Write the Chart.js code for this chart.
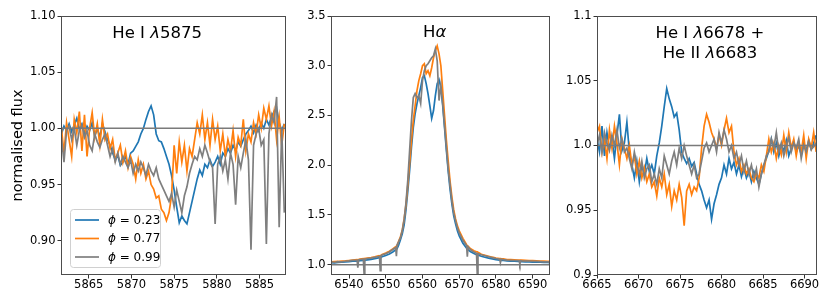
<!DOCTYPE html>
<html>
<head>
<meta charset="utf-8">
<script src="https://cdn.jsdelivr.net/npm/chart.js@4.4.0/dist/chart.umd.min.js"></script>
<style>
  html, body { margin: 0; padding: 0; background: #fff; }
  #fig { position: relative; width: 830px; height: 307px; }
  #fig canvas { position: absolute; left: 0; top: 0; }
</style>
</head>
<body>
<div id="fig">
  <canvas id="he5875" width="830" height="307"></canvas>
  <canvas id="halpha" width="830" height="307"></canvas>
  <canvas id="he6678" width="830" height="307"></canvas>
</div>
<script>
// Three line-profile panels (He I 5875, H-alpha, He I 6678 + He II 6683) at three orbital phases.

const phaseLabels = ["ϕ = 0.23", "ϕ = 0.77", "ϕ = 0.99"];
const phaseColors = ["#1f77b4", "#ff7f0e", "#7f7f7f"];

// --- He I 5875 ---
const he5875Waves = [
  5861.8, 5862.1, 5862.4, 5862.7, 5863.0, 5863.3, 5863.6, 5863.9, 5864.2, 5864.5,
  5864.8, 5865.1, 5865.4, 5865.7, 5866.0, 5866.3, 5866.6, 5866.9, 5867.2, 5867.5,
  5867.8, 5868.1, 5868.4, 5868.7, 5869.0, 5869.3, 5869.6, 5869.9, 5870.2, 5870.5,
  5870.8, 5871.1, 5871.4, 5871.7, 5872.0, 5872.3, 5872.6, 5872.9, 5873.2, 5873.5,
  5873.8, 5874.1, 5874.4, 5874.7, 5875.0, 5875.3, 5875.6, 5875.9, 5876.2, 5876.5,
  5876.8, 5877.1, 5877.4, 5877.7, 5878.0, 5878.3, 5878.6, 5878.9, 5879.2, 5879.5,
  5879.8, 5880.1, 5880.4, 5880.7, 5881.0, 5881.3, 5881.6, 5881.9, 5882.2, 5882.5,
  5882.8, 5883.1, 5883.4, 5883.7, 5884.0, 5884.3, 5884.6, 5884.9, 5885.2, 5885.5,
  5885.8, 5886.1, 5886.4, 5886.7, 5887.0, 5887.3, 5887.6, 5887.9
];
const he5875Phase023 = [
  0.995, 1.002, 0.998, 1.004, 0.997, 1.003, 1.009, 0.999, 1.004, 0.996,
  1.002, 0.998, 1.005, 0.993, 1.000, 0.992, 1.004, 0.997, 0.990, 0.985,
  0.978, 0.972, 0.976, 0.967, 0.970, 0.975, 0.968, 0.978, 0.980, 0.984,
  0.988, 0.995, 1.000, 1.008, 1.015, 1.020, 1.012, 0.995, 0.989, 0.988,
  0.982, 0.975, 0.968, 0.958, 0.945, 0.930, 0.916, 0.922, 0.918, 0.915,
  0.925, 0.935, 0.945, 0.955, 0.963, 0.958, 0.968, 0.965, 0.972, 0.966,
  0.970, 0.975, 0.968, 0.978, 0.975, 0.982, 0.978, 0.985, 0.980, 0.988,
  0.984, 0.990, 0.995, 0.998, 1.002, 0.996, 1.003, 0.998, 1.005, 1.000,
  1.008, 1.003, 1.010, 1.015, 1.018, 1.005, 0.998, 1.004
];
const he5875Phase077 = [
  1.000, 0.978, 1.005, 0.990, 0.975, 1.008, 0.996, 1.015, 0.980, 1.012,
  0.975, 1.000, 1.014, 0.992, 1.004, 0.985, 1.008, 0.990, 0.995, 0.982,
  0.990, 0.972, 0.978, 0.985, 0.970, 0.980, 0.965, 0.975, 0.968, 0.955,
  0.972, 0.960, 0.968, 0.955, 0.962, 0.950, 0.946, 0.938, 0.940, 0.928,
  0.925, 0.918, 0.925, 0.940, 0.985, 0.960, 0.988, 0.970, 0.985, 0.962,
  0.982, 0.975, 0.990, 1.005, 0.995, 1.012, 0.990, 1.005, 0.985, 1.008,
  0.990, 1.002, 0.980, 0.995, 0.975, 0.990, 0.980, 0.998, 0.975, 0.992,
  0.985, 1.008, 0.980, 0.995, 0.988, 1.005, 0.995, 1.012, 1.000, 1.018,
  1.008, 1.020, 1.002, 1.015, 0.990, 1.010, 0.985, 1.004
];
const he5875Phase099 = [
  0.992, 0.970, 0.998, 1.002, 0.990, 1.000, 0.985, 0.998, 1.003, 0.992,
  0.998, 0.985, 0.980, 0.995, 0.988, 0.983, 0.990, 0.995, 0.985, 0.975,
  0.982, 0.970, 0.978, 0.968, 0.975, 0.970, 0.965, 0.972, 0.960, 0.968,
  0.962, 0.970, 0.965, 0.958, 0.968, 0.962, 0.958, 0.965, 0.955, 0.950,
  0.945, 0.940, 0.935, 0.942, 0.930, 0.945, 0.935, 0.925, 0.940, 0.948,
  0.960, 0.968, 0.975, 0.972, 0.982, 0.975, 0.985, 0.978, 0.970, 0.965,
  0.915, 0.968, 0.975, 0.962, 0.972, 0.955, 0.978, 0.968, 0.932, 0.975,
  0.965, 0.978, 0.990, 0.972, 0.892, 0.985, 0.995, 1.000, 0.985, 0.990,
  0.897, 0.995, 1.012, 1.005, 1.028, 0.912, 1.000, 0.925
];
const he5875XTicks = [5865, 5870, 5875, 5880, 5885];
const he5875YTicks = [0.90, 0.95, 1.00, 1.05, 1.10];
const he5875YLabels = ["0.90", "0.95", "1.00", "1.05", "1.10"];

// --- H alpha ---
const halphaWaves = [
  6535, 6536, 6537, 6538, 6539, 6540, 6541, 6542.2, 6542.4, 6542.6,
  6543, 6543.9, 6544.1, 6544.3, 6545, 6546, 6547, 6548, 6548.3, 6548.5,
  6548.7, 6549, 6550, 6551, 6552, 6552.7, 6552.9, 6553.1, 6553.5, 6554,
  6554.5, 6555, 6555.5, 6556, 6556.5, 6557, 6557.5, 6558, 6558.5, 6559,
  6559.5, 6560, 6560.5, 6561, 6561.5, 6562, 6562.5, 6563, 6563.5, 6564,
  6564.5, 6565, 6565.5, 6566, 6566.5, 6567, 6567.5, 6568, 6568.5, 6569,
  6569.5, 6570, 6571, 6572, 6572.2, 6572.4, 6573, 6574, 6574.7, 6574.9,
  6575.1, 6576, 6577, 6578, 6579, 6580, 6581, 6581.2, 6581.4, 6582,
  6583, 6584, 6585, 6586, 6586.3, 6586.5, 6586.7, 6587, 6588, 6589,
  6590, 6591, 6592, 6593, 6594, 6594.5
];
const halphaPhase023 = [
  1.020, 1.018, 1.022, 1.024, 1.028, 1.030, 1.034, 1.036, 1.037, 1.038,
  1.040, 1.043, 1.044, 1.045, 1.048, 1.053, 1.060, 1.068, 1.070, 1.072,
  1.074, 1.080, 1.092, 1.108, 1.130, 1.150, 1.155, 1.162, 1.195, 1.250,
  1.310, 1.400, 1.550, 1.740, 1.950, 2.180, 2.380, 2.520, 2.620, 2.700,
  2.780, 2.880, 2.900, 2.820, 2.720, 2.600, 2.470, 2.550, 2.700, 2.820,
  2.860, 2.780, 2.600, 2.380, 2.150, 1.940, 1.760, 1.610, 1.490, 1.410,
  1.340, 1.290, 1.215, 1.165, 1.158, 1.152, 1.132, 1.112, 1.100, 1.098,
  1.096, 1.085, 1.075, 1.065, 1.058, 1.050, 1.045, 1.044, 1.044, 1.042,
  1.038, 1.036, 1.034, 1.032, 1.032, 1.031, 1.031, 1.030, 1.028, 1.028,
  1.026, 1.025, 1.024, 1.022, 1.022, 1.020
];
const halphaPhase077 = [
  1.028, 1.030, 1.032, 1.035, 1.038, 1.042, 1.046, 1.050, 1.048, 1.052,
  1.055, 1.060, 1.058, 1.062, 1.066, 1.072, 1.079, 1.088, 1.090, 1.092,
  1.094, 1.102, 1.116, 1.135, 1.160, 1.180, 1.185, 1.195, 1.235, 1.280,
  1.350, 1.460, 1.600, 1.800, 2.020, 2.250, 2.450, 2.600, 2.750, 2.850,
  2.920, 3.000, 3.020, 2.920, 2.950, 2.900, 2.980, 3.080, 3.150, 3.200,
  3.120, 3.000, 2.750, 2.500, 2.250, 2.040, 1.840, 1.680, 1.550, 1.460,
  1.390, 1.340, 1.265, 1.200, 1.192, 1.186, 1.162, 1.140, 1.130, 1.128,
  1.126, 1.105, 1.095, 1.085, 1.075, 1.066, 1.062, 1.061, 1.060, 1.058,
  1.052, 1.050, 1.048, 1.046, 1.046, 1.045, 1.045, 1.045, 1.044, 1.040,
  1.040, 1.038, 1.036, 1.035, 1.034, 1.033
];
const halphaPhase099 = [
  1.025, 1.022, 1.030, 1.028, 1.034, 1.038, 1.044, 1.046, 0.970, 1.047,
  1.052, 1.055, 0.915, 1.056, 1.062, 1.066, 1.074, 1.082, 1.084, 0.940,
  1.088, 1.097, 1.110, 1.128, 1.155, 1.170, 1.085, 1.200, 1.230, 1.270,
  1.340, 1.450, 1.620, 1.850, 2.150, 2.450, 2.680, 2.720, 2.680, 2.700,
  2.620, 2.850, 2.950, 3.000, 3.020, 3.050, 3.080, 3.100, 3.170, 3.050,
  2.650, 2.800, 2.620, 2.400, 2.180, 1.960, 1.800, 1.640, 1.520, 1.440,
  1.370, 1.320, 1.245, 1.190, 1.080, 1.178, 1.152, 1.126, 1.115, 0.910,
  1.110, 1.100, 1.090, 1.080, 1.070, 1.062, 1.055, 1.020, 1.054, 1.050,
  1.046, 1.044, 1.042, 1.040, 1.039, 1.005, 1.039, 1.038, 1.036, 1.035,
  1.033, 1.032, 1.030, 1.028, 1.027, 1.026
];
const halphaXTicks = [6540, 6550, 6560, 6570, 6580, 6590];
const halphaYTicks = [1.0, 1.5, 2.0, 2.5, 3.0, 3.5];
const halphaYLabels = ["1.0", "1.5", "2.0", "2.5", "3.0", "3.5"];

// --- He I 6678 + He II 6683 ---
const he6678Waves = [
  6665.0, 6665.3, 6665.6, 6665.9, 6666.2, 6666.5, 6666.8, 6667.1, 6667.4, 6667.7,
  6668.0, 6668.3, 6668.6, 6668.9, 6669.2, 6669.5, 6669.8, 6670.1, 6670.4, 6670.7,
  6671.0, 6671.3, 6671.6, 6671.9, 6672.2, 6672.5, 6672.8, 6673.1, 6673.4, 6673.7,
  6674.0, 6674.3, 6674.6, 6674.9, 6675.2, 6675.5, 6675.8, 6676.1, 6676.4, 6676.7,
  6677.0, 6677.3, 6677.6, 6677.9, 6678.2, 6678.5, 6678.8, 6679.1, 6679.4, 6679.7,
  6680.0, 6680.3, 6680.6, 6680.9, 6681.2, 6681.5, 6681.8, 6682.1, 6682.4, 6682.7,
  6683.0, 6683.3, 6683.6, 6683.9, 6684.2, 6684.5, 6684.8, 6685.1, 6685.4, 6685.7,
  6686.0, 6686.3, 6686.6, 6686.9, 6687.2, 6687.5, 6687.8, 6688.1, 6688.4, 6688.7,
  6689.0, 6689.3, 6689.6, 6689.9, 6690.2, 6690.5, 6690.8, 6691.1, 6691.4
];
const he6678Phase023 = [
  1.005, 0.995, 1.015, 0.992, 1.010, 0.998, 1.005, 0.990, 1.008, 1.024,
  0.996, 1.002, 1.018, 0.995, 0.985, 0.975, 0.988, 0.972, 0.985, 0.978,
  0.990, 0.980, 0.985, 0.978, 0.992, 1.002, 1.015, 1.030, 1.044, 1.036,
  1.030, 1.022, 1.025, 1.012, 0.995, 0.990, 0.986, 0.990, 0.984, 0.987,
  0.978, 0.970, 0.965, 0.958, 0.952, 0.958, 0.943, 0.955, 0.962, 0.970,
  0.975, 0.985, 0.978, 0.990, 0.982, 0.987, 0.978, 0.985, 0.976, 0.983,
  0.975, 0.980, 0.972, 0.980, 0.975, 0.970, 0.978, 0.985, 0.990, 0.996,
  1.005, 0.995, 1.002, 0.992, 1.000, 0.996, 1.004, 0.992, 0.998, 1.003,
  0.995, 1.000, 0.993, 1.002, 0.996, 1.004, 0.997, 1.002, 1.008
];
const he6678Phase077 = [
  1.010, 1.015, 0.995, 1.005, 0.990, 1.012, 0.998, 1.015, 1.002, 0.985,
  1.005, 0.998, 0.990, 1.000, 0.985, 0.992, 0.978, 0.988, 0.975, 0.983,
  0.972, 0.978, 0.968, 0.972, 0.961, 0.975, 0.968, 0.978, 0.962, 0.970,
  0.953, 0.965, 0.958, 0.970, 0.960, 0.938, 0.965, 0.970, 0.962, 0.968,
  0.965, 0.975, 0.998, 1.015, 1.024, 1.018, 1.010, 1.005, 0.998, 1.008,
  1.000, 1.012, 1.021, 1.010, 1.015, 0.995, 0.985, 0.990, 0.980, 0.985,
  0.978, 0.982, 0.975, 0.972, 0.978, 0.975, 0.985, 0.980, 0.992, 1.005,
  0.995, 1.002, 0.990, 1.000, 0.993, 1.008, 0.995, 1.010, 0.998, 1.005,
  0.992, 1.003, 0.995, 1.008, 0.990, 1.005, 0.998, 1.010, 0.995
];
const he6678Phase099 = [
  1.000, 1.008, 0.995, 1.010, 1.002, 0.996, 1.008, 1.000, 1.012, 0.998,
  1.005, 0.995, 0.998, 0.990, 0.982, 0.995, 0.985, 0.978, 0.988, 0.975,
  0.982, 0.985, 0.972, 0.978, 0.970, 0.982, 0.975, 0.992, 0.985, 0.978,
  0.988, 0.995, 0.985, 0.998, 0.990, 1.000, 0.992, 0.985, 0.978, 0.985,
  0.975, 0.978, 0.988, 0.998, 1.002, 0.995, 1.000, 1.005, 0.995, 1.010,
  1.002, 1.012, 1.005, 0.995, 1.000, 0.990, 0.995, 0.985, 0.992, 0.980,
  0.988, 0.978, 0.985, 0.975, 0.982, 0.968, 0.978, 0.985, 0.992, 0.995,
  1.005, 0.998, 1.010, 0.995, 1.002, 0.992, 1.000, 1.006, 0.995, 1.002,
  0.998, 1.005, 0.990, 1.000, 0.995, 1.003, 0.997, 0.999, 1.002
];
const he6678XTicks = [6665, 6670, 6675, 6680, 6685, 6690];
const he6678YTicks = [0.90, 0.95, 1.00, 1.05, 1.10];
const he6678YLabels = ["0.9", "0.95", "1.0", "1.05", "1.1"];

const FONT = "'DejaVu Sans', sans-serif";
const FIG_W = 830, FIG_H = 307;

function toPoints(waves, vals) {
  return waves.map((w, i) => ({ x: w, y: vals[i] }));
}

// draws text made of [string, italic] pieces, e.g. mathtext-style "He I λ5875"
function drawRich(ctx, parts, x, y, size, align) {
  const fontFor = it => (it ? "italic " : "") + size + "px " + FONT;
  let w = 0;
  parts.forEach(([t, it]) => { ctx.font = fontFor(it); w += ctx.measureText(t).width; });
  let cx = align === "center" ? x - w / 2 : x;
  ctx.textAlign = "left";
  ctx.fillStyle = "#000";
  parts.forEach(([t, it]) => {
    ctx.font = fontFor(it);
    ctx.fillText(t, cx, y);
    cx += ctx.measureText(t).width;
  });
}

function decorPlugin(cfg) {
  return {
    id: "panelDecor",
    afterDraw(chart) {
      const ctx = chart.ctx;
      const a = chart.chartArea;
      ctx.save();
      // axes frame
      ctx.strokeStyle = "#4d4d4d";
      ctx.lineWidth = 1;
      ctx.strokeRect(Math.round(a.left) + 0.5, Math.round(a.top) + 0.5,
        Math.round(a.right - a.left) - 1, Math.round(a.bottom - a.top) - 1);
      // in-axes title lines
      ctx.textBaseline = "alphabetic";
      const tx = chart.scales.x.getPixelForValue(cfg.titleAt);
      cfg.title.forEach((line, i) => drawRich(ctx, line, tx, cfg.titleBaseline + i * 20.5, 16.5, "center"));
      // legend
      if (cfg.legend) {
        const bx = 70.5, by = 209.5, bw = 90, bh = 58, r = 3;
        ctx.beginPath();
        ctx.moveTo(bx + r, by);
        ctx.arcTo(bx + bw, by, bx + bw, by + bh, r);
        ctx.arcTo(bx + bw, by + bh, bx, by + bh, r);
        ctx.arcTo(bx, by + bh, bx, by, r);
        ctx.arcTo(bx, by, bx + bw, by, r);
        ctx.closePath();
        ctx.fillStyle = "rgba(255,255,255,0.8)";
        ctx.fill();
        ctx.strokeStyle = "#d0d0d0";
        ctx.stroke();
        const entries = chart.data.datasets.filter(d => d.inLegend)
          .sort((p, q) => p.legendRank - q.legendRank);
        entries.forEach((d, i) => {
          const ly = 220 + i * 18.5;
          ctx.strokeStyle = d.borderColor;
          ctx.lineWidth = 1.7;
          ctx.beginPath();
          ctx.moveTo(75, ly);
          ctx.lineTo(99, ly);
          ctx.stroke();
          ctx.textBaseline = "middle";
          drawRich(ctx, [[d.label.charAt(0), true], [d.label.slice(1), false]], 108, ly + 0.5, 12, "left");
        });
      }
      ctx.restore();
    }
  };
}

function makePanel(canvasId, p) {
  const yW = p.yAxisWidth, xH = 30;
  const continuum = {
    label: "continuum",
    data: [{ x: p.xMin, y: 1 }, { x: p.xMax, y: 1 }],
    borderColor: "#7a7a7a", borderWidth: 1.5, pointRadius: 0, inLegend: false
  };
  // Chart.js paints the first dataset last, so the continuum and phase 0.99 end up on top
  const phases = [p.series[2], p.series[1], p.series[0]].map((vals, j) => {
    const k = 2 - j;
    return {
      label: phaseLabels[k],
      data: toPoints(p.waves, vals),
      borderColor: phaseColors[k],
      borderWidth: 1.7,
      pointRadius: 0,
      tension: 0,
      inLegend: true,
      legendRank: k
    };
  });

  new Chart(document.getElementById(canvasId), {
    type: "line",
    data: { datasets: [continuum, ...phases] },
    options: {
      responsive: false,
      animation: false,
      events: [],
      layout: {
        padding: {
          left: p.box.left - yW,
          right: FIG_W - p.box.right,
          top: p.box.top,
          bottom: FIG_H - p.box.bottom - xH
        }
      },
      plugins: { legend: { display: false }, tooltip: { enabled: false } },
      scales: {
        x: {
          type: "linear",
          min: p.xMin, max: p.xMax,
          afterFit: s => { s.height = xH; },
          afterBuildTicks: s => { s.ticks = p.xTicks.map(v => ({ value: v })); },
          grid: { drawOnChartArea: false, drawTicks: true, tickLength: 3.5, color: "#333" },
          border: { display: false },
          ticks: {
            autoSkip: false, maxRotation: 0, padding: 0,
            color: "#000", font: { family: FONT, size: 11.5 },
            callback: v => String(v)
          }
        },
        y: {
          type: "linear",
          min: p.yMin, max: p.yMax,
          afterFit: s => { s.width = yW; },
          afterBuildTicks: s => { s.ticks = p.yTicks.map(v => ({ value: v })); },
          grid: { drawOnChartArea: false, drawTicks: true, tickLength: 3.5, color: "#333" },
          border: { display: false },
          ticks: {
            autoSkip: false, padding: 2,
            color: "#000", font: { family: FONT, size: 11.5 },
            callback: (v, i) => p.yLabels[i]
          },
          title: p.yTitle
            ? { display: true, text: p.yTitle, color: "#000", font: { family: FONT, size: 14.5 }, padding: { top: 4, bottom: 4 } }
            : { display: false }
        }
      }
    },
    plugins: [decorPlugin(p)]
  });
}

makePanel("he5875", {
  box: { left: 61, right: 286, top: 16, bottom: 275 },
  yAxisWidth: 55,
  xMin: 5861.75, xMax: 5888.1, yMin: 0.8695, yMax: 1.10,
  waves: he5875Waves,
  series: [he5875Phase023, he5875Phase077, he5875Phase099],
  xTicks: he5875XTicks, yTicks: he5875YTicks, yLabels: he5875YLabels,
  yTitle: "normalised flux",
  title: [[["He I ", false], ["λ", true], ["5875", false]]],
  titleAt: 5873.0, titleBaseline: 38,
  legend: true
});

makePanel("halpha", {
  box: { left: 331, right: 550, top: 16, bottom: 275 },
  yAxisWidth: 40,
  xMin: 6535.1, xMax: 6594.7, yMin: 0.896, yMax: 3.5,
  waves: halphaWaves,
  series: [halphaPhase023, halphaPhase077, halphaPhase099],
  xTicks: halphaXTicks, yTicks: halphaYTicks, yLabels: halphaYLabels,
  title: [[["H", false], ["α", true]]],
  titleAt: 6563.3, titleBaseline: 37,
  legend: false
});

makePanel("he6678", {
  box: { left: 597, right: 817, top: 16, bottom: 275 },
  yAxisWidth: 40,
  xMin: 6665, xMax: 6691.5, yMin: 0.9, yMax: 1.1,
  waves: he6678Waves,
  series: [he6678Phase023, he6678Phase077, he6678Phase099],
  xTicks: he6678XTicks, yTicks: he6678YTicks, yLabels: he6678YLabels,
  title: [
    [["He I ", false], ["λ", true], ["6678 +", false]],
    [["He II ", false], ["λ", true], ["6683", false]]
  ],
  titleAt: 6678.6, titleBaseline: 37.5,
  legend: false
});
</script>
</body>
</html>
